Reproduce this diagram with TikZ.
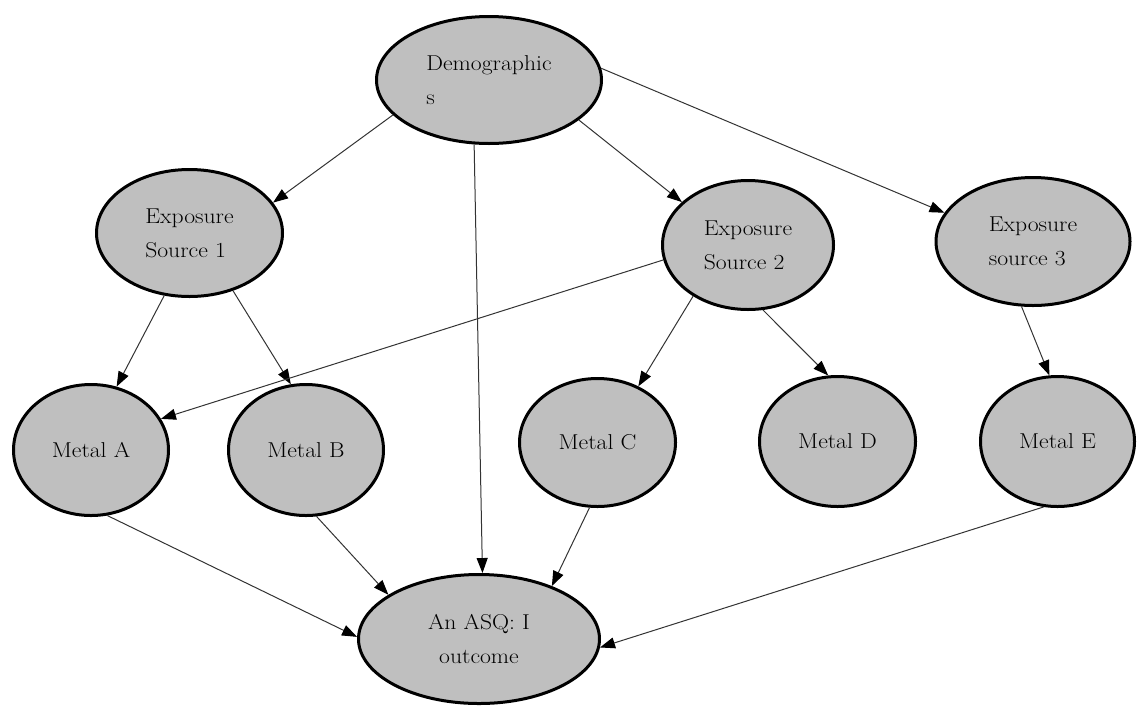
\documentclass[tikz,border=0pt]{standalone}
\usepackage{fontspec}
\setmainfont{Latin Modern Roman}[FakeStretch=1.1]
\usetikzlibrary{shapes.geometric,arrows.meta}
\begin{document}
\begin{tikzpicture}[x=1pt,y=-1pt,
  blob/.style={ellipse,draw=black,line width=3pt,fill=black!25,inner sep=0pt,
    font=\fontsize{21.5}{34}\selectfont,text=black},
  link/.style={draw=black!80,line width=1pt,
    -{Triangle[length=15pt,width=11pt,color=black]}}]
\useasboundingbox (0,0) rectangle (1137,705);
\node[blob,minimum width=225pt,minimum height=127pt,align=left] (demo) at (489,80) {Demographic\\s};
\node[blob,minimum width=186pt,minimum height=127pt,align=left] (es1) at (189.5,233) {Exposure\\Source 1};
\node[blob,minimum width=171pt,minimum height=129pt,align=left] (es2) at (748,245) {Exposure\\Source 2};
\node[blob,minimum width=194pt,minimum height=128pt,align=left] (es3) at (1033,241.5) {Exposure\\source 3};
\node[blob,minimum width=155pt,minimum height=131pt] (ma) at (91,450) {Metal A};
\node[blob,minimum width=155pt,minimum height=131pt] (mb) at (306,450) {Metal B};
\node[blob,minimum width=156pt,minimum height=128pt] (mc) at (597.5,442.5) {Metal C};
\node[blob,minimum width=156pt,minimum height=130pt] (md) at (837.5,441.5) {Metal D};
\node[blob,minimum width=154pt,minimum height=130pt] (me) at (1057.5,441.5) {Metal E};
\node[blob,minimum width=241pt,minimum height=129pt,align=center] (asq) at (479,639) {An ASQ: I\\outcome};
\draw[link] (demo.200) -- (es1.20);
\draw[link] (demo.257) -- (asq.87);
\draw[link] (demo.336) -- (es2.147);
\draw[link] (demo.6) -- (es3.162);
\draw[link] (es1.248) -- (ma.68);
\draw[link] (es1.307) -- (mb.103);
\draw[link] (es2.190) -- (ma.24);
\draw[link] (es2.223) -- (mc.54);
\draw[link] (es2.283) -- (md.98);
\draw[link] (es3.260) -- (me.97);
\draw[link] (ma.284) -- (asq.179);
\draw[link] (mb.279) -- (asq.154);
\draw[link] (mc.263) -- (asq.36);
\draw[link] (me.258) -- (asq.356);
\end{tikzpicture}
\end{document}
